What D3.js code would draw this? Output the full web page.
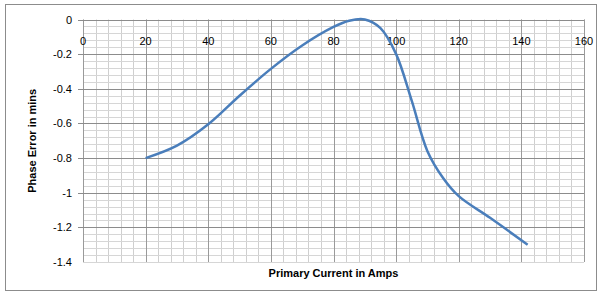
<!DOCTYPE html>
<html>
<head>
<meta charset="utf-8">
<script src="https://cdn.jsdelivr.net/npm/d3@7"></script>
<style>
  body { margin: 0; background: #fff; }
  svg { display: block; font-family: "Liberation Sans", Arial, sans-serif; }
</style>
</head>
<body>
<div id="chart"></div>
<script>
// primary current (A) and phase error (mins)
var current = [20, 30, 40, 50, 60, 70, 80, 85, 90, 95, 100, 105, 110, 115, 120, 130, 142];
var phaseError = [-0.80, -0.728, -0.605, -0.44, -0.285, -0.15, -0.043, -0.007, 0, -0.05, -0.20, -0.47, -0.76, -0.915, -1.02, -1.145, -1.30];

var xTicks = [0, 20, 40, 60, 80, 100, 120, 140, 160];
var yTicks = [0, -0.2, -0.4, -0.6, -0.8, -1, -1.2, -1.4];

var width = 600, height = 294;
var margin = {top: 19.5, right: 16, bottom: 32, left: 83};

var svg = d3.select("#chart")
  .append("svg")
    .attr("width", width)
    .attr("height", height);

// outer chart border
svg.append("rect")
  .attr("x", 5.5).attr("y", 4.5)
  .attr("width", 591).attr("height", 286)
  .attr("fill", "none")
  .attr("stroke", "#8c8c8c");

var x = d3.scaleLinear().domain([0, 160]).range([margin.left, width - margin.right]);
var y = d3.scaleLinear().domain([-1.4, 0]).range([height - margin.bottom, margin.top]);

var grid = svg.append("g");

// minor gridlines
grid.selectAll(".vminor")
  .data(d3.range(0, 161, 4))
  .join("line")
    .attr("x1", d => Math.round(x(d)) + 0.5)
    .attr("x2", d => Math.round(x(d)) + 0.5)
    .attr("y1", y(0)).attr("y2", y(-1.4))
    .attr("stroke", "#cfcfcf");

grid.selectAll(".hminor")
  .data(d3.range(0, 36).map(i => -i * 0.04))
  .join("line")
    .attr("x1", x(0)).attr("x2", x(160))
    .attr("y1", d => Math.round(y(d)) + 0.5)
    .attr("y2", d => Math.round(y(d)) + 0.5)
    .attr("stroke", "#d6d6d6");

// major gridlines
grid.selectAll(".vmajor")
  .data(xTicks)
  .join("line")
    .attr("x1", d => Math.round(x(d)) + 0.5)
    .attr("x2", d => Math.round(x(d)) + 0.5)
    .attr("y1", y(0)).attr("y2", y(-1.4))
    .attr("stroke", "#9a9a9a");

grid.selectAll(".hmajor")
  .data(yTicks.slice(0, -1))
  .join("line")
    .attr("x1", x(0) - 5).attr("x2", x(160))
    .attr("y1", d => Math.round(y(d)) + 0.5)
    .attr("y2", d => Math.round(y(d)) + 0.5)
    .attr("stroke", "#8c8c8c");

// y tick labels
svg.append("g")
  .selectAll("text")
  .data(yTicks)
  .join("text")
    .attr("x", x(0) - 11)
    .attr("y", d => y(d) + 4)
    .attr("text-anchor", "end")
    .attr("font-size", "11px")
    .attr("fill", "#000")
    .text(d => String(+d.toFixed(1)));

// x tick labels, sitting just under the zero line
svg.append("g")
  .selectAll("text")
  .data(xTicks)
  .join("text")
    .attr("x", d => x(d))
    .attr("y", y(0) + 25)
    .attr("text-anchor", "middle")
    .attr("font-size", "11px")
    .attr("fill", "#000")
    .text(d => d);

// the curve
var line = d3.line()
  .x((d, i) => x(current[i]))
  .y(d => y(d))
  .curve(d3.curveCatmullRom.alpha(0.5));

svg.append("path")
  .datum(phaseError)
  .attr("d", line)
  .attr("fill", "none")
  .attr("stroke", "#4a7ebb")
  .attr("stroke-width", 2.5);

// axis titles
svg.append("text")
  .attr("x", (x(0) + x(160)) / 2)
  .attr("y", 277)
  .attr("text-anchor", "middle")
  .attr("font-size", "11px")
  .attr("font-weight", "bold")
  .text("Primary Current in Amps");

svg.append("text")
  .attr("transform", `translate(36, ${(y(0) + y(-1.4)) / 2}) rotate(-90)`)
  .attr("text-anchor", "middle")
  .attr("font-size", "11px")
  .attr("font-weight", "bold")
  .text("Phase Error in mins");
</script>
</body>
</html>
